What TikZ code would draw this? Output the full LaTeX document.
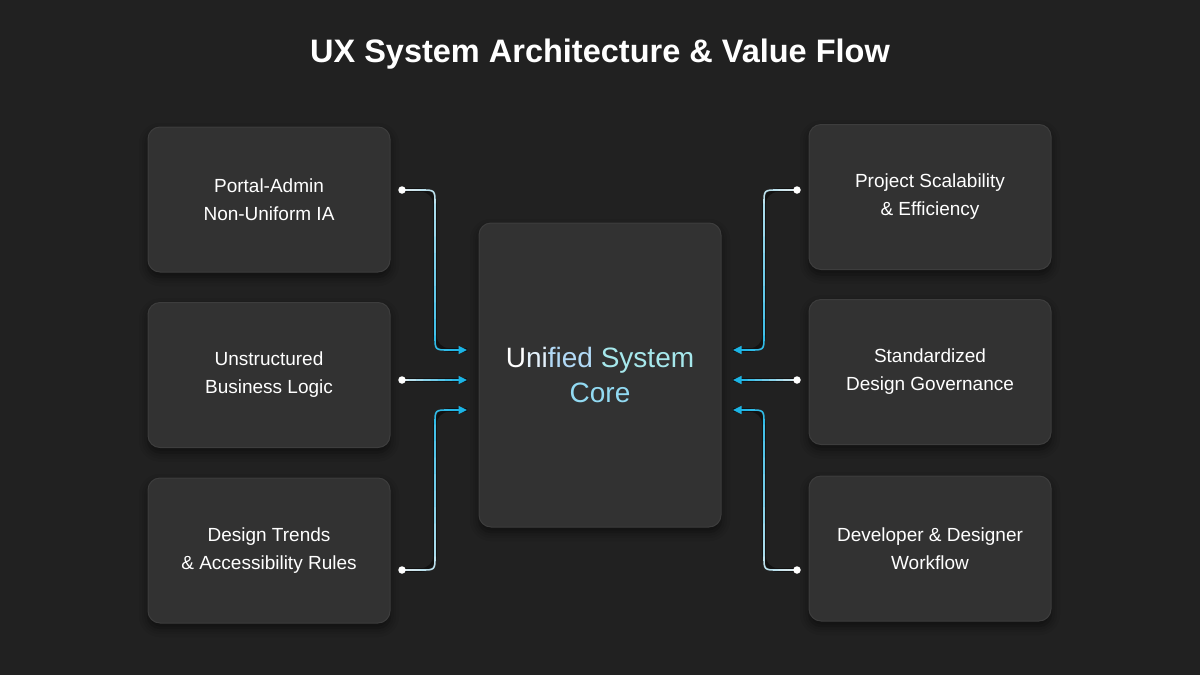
\documentclass[tikz,border=0pt]{standalone}
\usepackage{fontspec}
\setmainfont{Liberation Sans}
\usetikzlibrary{calc,arrows.meta,shadows.blur}
\definecolor{bg}{HTML}{212121}
\definecolor{boxfill}{HTML}{323232}
\definecolor{boxline}{HTML}{3D3D3D}
\definecolor{cy}{HTML}{1BB5E6}
\definecolor{lite}{HTML}{EEEEEE}
\definecolor{tA}{HTML}{E4F1FB}
\definecolor{tB}{HTML}{B2DAF7}
\definecolor{tC}{HTML}{A6E8EC}
\definecolor{tD}{HTML}{92DAF2}
\newcommand\gseg[4]{%
  \foreach \k in {0,...,7}{%
    \pgfmathsetmacro\pa{\k/8}%
    \pgfmathsetmacro\pb{(\k+1)/8}%
    \pgfmathtruncatemacro\cc{#3+(#4-#3)*(\k+0.5)/8}%
    \draw[conn, draw=cy!\cc!lite] ($#1!\pa!#2$) -- ($#1!\pb!#2$);
  }}
\newcommand\gcorner[4]{%
  \draw[conn, draw=cy!#4!lite] #1 .. controls #2 .. #3;}
\tikzset{
  card/.style={draw=boxline, line width=1pt, fill=boxfill, rounded corners=12pt,
    minimum width=242pt, minimum height=145pt, align=center, text=white,
    font=\fontsize{19}{28}\selectfont,
    blur shadow={shadow xshift=0pt, shadow yshift=-5pt, shadow blur radius=9pt, shadow opacity=55}},
  core/.style={card, minimum height=304pt, font=\fontsize{28}{35}\selectfont},
  dotn/.style={circle, fill=white, inner sep=0pt, minimum size=7.5pt},
  conn/.style={line width=1.6pt, line cap=round},
  under/.style={line width=3.6pt, draw=black, opacity=0.45, rounded corners=14pt},
  tip/.style={draw=cy, line width=1.6pt, -{Triangle[length=8.5pt,width=8pt]}},
}
\begin{document}
\begin{tikzpicture}[x=1pt,y=-1pt]
\useasboundingbox[fill=bg] (0,0) rectangle (1200,675);

\node[text=white, font=\fontsize{32.5}{38}\bfseries] (title) at (600,54) {UX System Architecture \& Value Flow};

% cards
\node[card] (l1) at (269,199.5) {Portal-Admin\\Non-Uniform IA};
\node[card] (l2) at (269,375) {Unstructured\\Business Logic};
\node[card] (l3) at (269,550.5) {Design Trends\\\& Accessibility Rules};
\node[card] (r1) at (930,197) {Project Scalability\\\& Efficiency};
\node[card] (r2) at (930,372) {Standardized\\Design Governance};
\node[card] (r3) at (930,548.5) {Developer \& Designer\\Workflow};
\node[core] (core) at (600,375) {{\color{white}U}{\color{tA}ni}{\color{tB}fied} {\color{tC}System}\\{\color{tD}Core}};

% connector end points
\coordinate (dl1) at (402,190); \coordinate (al1) at (467,350);
\coordinate (dl2) at (402,380); \coordinate (al2) at (467,380);
\coordinate (dl3) at (402,570); \coordinate (al3) at (467,410);
\coordinate (dr1) at (797,190); \coordinate (ar1) at (733,350);
\coordinate (dr2) at (797,380); \coordinate (ar2) at (733,380);
\coordinate (dr3) at (797,570); \coordinate (ar3) at (733,410);

% dark underlay
\draw[under] (dl1) -| (435,350) -- (al1);
\draw[under] (dl2) -- (al2);
\draw[under] (dl3) -| (435,410) -- (al3);
\draw[under] (dr1) -| (764,350) -- (ar1);
\draw[under] (dr2) -- (ar2);
\draw[under] (dr3) -| (764,410) -- (ar3);

% left 1
\gseg{(dl1)}{(421,190)}{8}{18}
\gcorner{(421,190)}{(435,190)}{(435,204)}{24}
\gseg{(435,204)}{(435,336)}{30}{85}
\gcorner{(435,336)}{(435,350)}{(449,350)}{90}
\gseg{(449,350)}{($(al1)+(-7,0)$)}{93}{100}
\draw[tip] ($(al1)+(-9,0)$) -- (al1);
% left 2
\gseg{(dl2)}{($(al2)+(-7,0)$)}{8}{100}
\draw[tip] ($(al2)+(-9,0)$) -- (al2);
% left 3
\gseg{(dl3)}{(421,570)}{8}{18}
\gcorner{(421,570)}{(435,570)}{(435,556)}{24}
\gseg{(435,556)}{(435,424)}{30}{85}
\gcorner{(435,424)}{(435,410)}{(449,410)}{90}
\gseg{(449,410)}{($(al3)+(-7,0)$)}{93}{100}
\draw[tip] ($(al3)+(-9,0)$) -- (al3);
% right 1
\gseg{(dr1)}{(778,190)}{8}{18}
\gcorner{(778,190)}{(764,190)}{(764,204)}{24}
\gseg{(764,204)}{(764,336)}{30}{85}
\gcorner{(764,336)}{(764,350)}{(750,350)}{90}
\gseg{(750,350)}{($(ar1)+(7,0)$)}{93}{100}
\draw[tip] ($(ar1)+(9,0)$) -- (ar1);
% right 2
\gseg{(dr2)}{($(ar2)+(7,0)$)}{8}{100}
\draw[tip] ($(ar2)+(9,0)$) -- (ar2);
% right 3
\gseg{(dr3)}{(778,570)}{8}{18}
\gcorner{(778,570)}{(764,570)}{(764,556)}{24}
\gseg{(764,556)}{(764,424)}{30}{85}
\gcorner{(764,424)}{(764,410)}{(750,410)}{90}
\gseg{(750,410)}{($(ar3)+(7,0)$)}{93}{100}
\draw[tip] ($(ar3)+(9,0)$) -- (ar3);

% dots
\foreach \d in {dl1,dl2,dl3,dr1,dr2,dr3}{\node[dotn] at (\d) {};}
\end{tikzpicture}
\end{document}
